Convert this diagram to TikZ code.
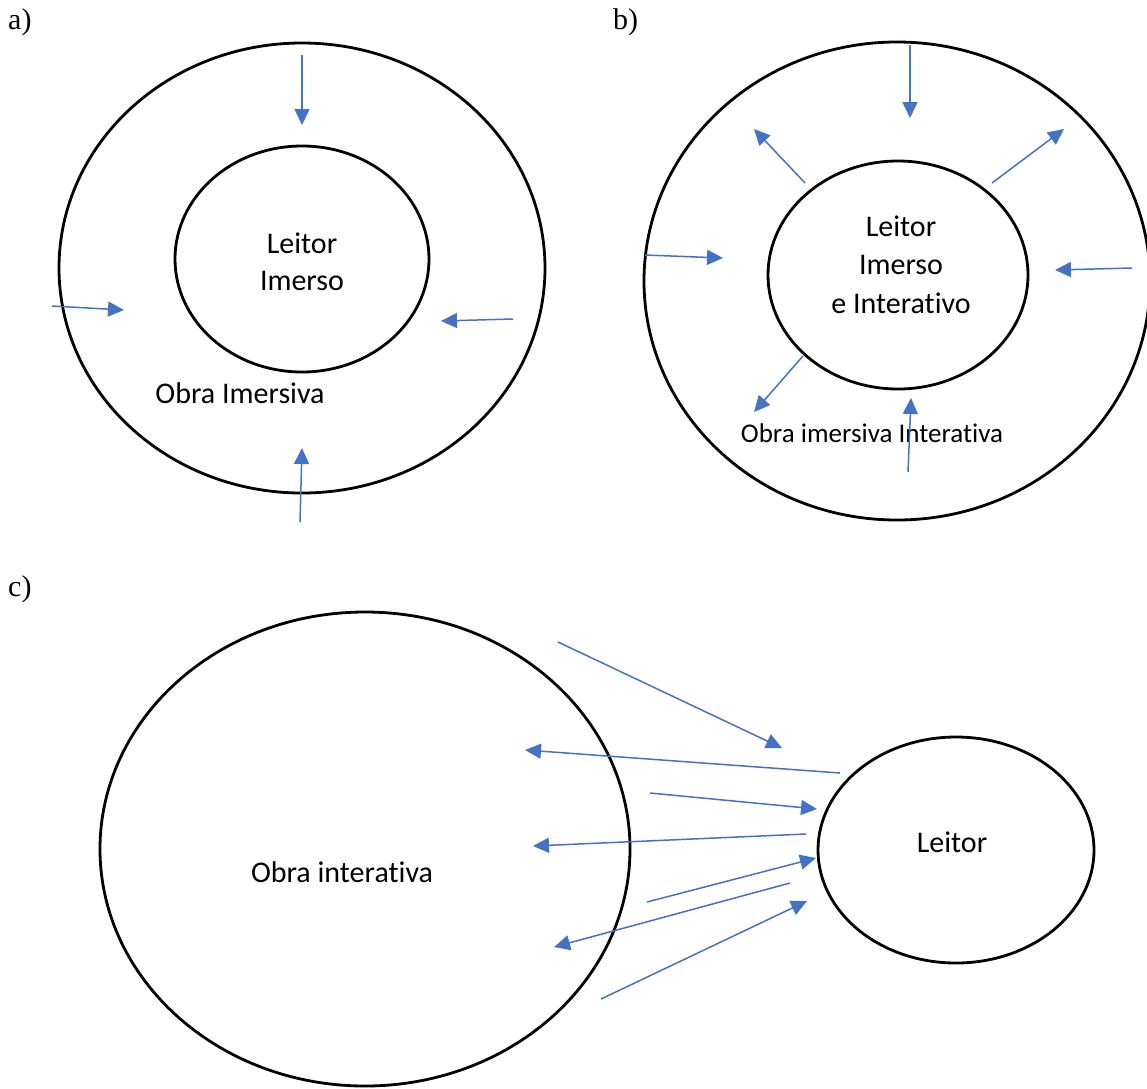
\documentclass[tikz,border=0pt]{standalone}
\usepackage{fontspec}
\setmainfont[Ligatures=NoCommon]{Carlito}
\newfontfamily\timesf{Liberation Serif}
\usetikzlibrary{arrows.meta,shapes.geometric}
\definecolor{arrowblue}{RGB}{68,114,196}
\begin{document}
\begin{tikzpicture}[x=1pt,y=-1pt,
 ring/.style={draw=black, line width=2.8pt, ellipse, inner sep=0pt, outer sep=0pt},
 flow/.style={draw=arrowblue, line width=1.5pt, -{Triangle[length=16pt,width=15pt]}},
 lbl/.style={font=\fontsize{30}{36}\selectfont, anchor=base, inner sep=0pt},
 smalllbl/.style={font=\fontsize{27}{32}\selectfont, anchor=base, inner sep=0pt},
 tag/.style={font=\timesf\fontsize{30}{36}\selectfont, anchor=base west, inner sep=0pt}]
\useasboundingbox[fill=white] (0,0) rectangle (1147,1088);

% ---------- a) ----------
\node[tag] (taga) at (8,29) {a)};
\node[ring, minimum width=486pt, minimum height=450pt] (aout) at (302,268) {};
\node[ring, minimum width=254pt, minimum height=226pt] (ain) at (302,259) {};
\node[lbl] (aleitor) at (302,253) {Leitor};
\node[lbl] (aimerso) at (302,290) {Imerso};
\node[lbl] (aobra) at (240,403) {Obra Imersiva};
\coordinate (a1s) at (302,55);  \coordinate (a1e) at (302,125);
\coordinate (a2s) at (52,306);  \coordinate (a2e) at (124,310);
\coordinate (a3s) at (513,319); \coordinate (a3e) at (441,321);
\coordinate (a4s) at (300,522); \coordinate (a4e) at (302,448);
\draw[flow] (a1s) -- (a1e);
\draw[flow] (a2s) -- (a2e);
\draw[flow] (a3s) -- (a3e);
\draw[flow] (a4s) -- (a4e);

% ---------- b) ----------
\node[tag] (tagb) at (613,29) {b)};
\node[ring, minimum width=506pt, minimum height=478pt] (bout) at (897,281) {};
\node[ring, minimum width=260pt, minimum height=228pt] (bin) at (898,275) {};
\node[lbl] (bleitor) at (901,236) {Leitor};
\node[lbl] (bimerso) at (901,274) {Imerso};
\node[lbl] (binter) at (901,313) {e Interativo};
\node[smalllbl] (bobra) at (872,442) {Obra imersiva Interativa};
\coordinate (b1s) at (910,45);   \coordinate (b1e) at (910,118);
\coordinate (b2s) at (805,183);  \coordinate (b2e) at (754,129);
\coordinate (b3s) at (992,183);  \coordinate (b3e) at (1064,129);
\coordinate (b4s) at (645,255);  \coordinate (b4e) at (723,258);
\coordinate (b5s) at (1132,268); \coordinate (b5e) at (1055,270);
\coordinate (b6s) at (803,356);  \coordinate (b6e) at (754,412);
\coordinate (b7s) at (908,472);  \coordinate (b7e) at (911,398);
\draw[flow] (b1s) -- (b1e);
\draw[flow] (b2s) -- (b2e);
\draw[flow] (b3s) -- (b3e);
\draw[flow] (b4s) -- (b4e);
\draw[flow] (b5s) -- (b5e);
\draw[flow] (b6s) -- (b6e);
\draw[flow] (b7s) -- (b7e);

% ---------- c) ----------
\node[tag] (tagc) at (8,596) {c)};
\node[ring, minimum width=530pt, minimum height=474pt] (cobra) at (365,849) {};
\node[ring, minimum width=276pt, minimum height=226pt] (cleitor) at (956,850) {};
\node[lbl] (cleitortxt) at (952,852) {Leitor};
\node[lbl] (cobratxt) at (342,882) {Obra interativa};
\coordinate (c1s) at (558,642); \coordinate (c1e) at (782,748);
\coordinate (c2s) at (840,773); \coordinate (c2e) at (525,750);
\coordinate (c3s) at (650,793); \coordinate (c3e) at (817,809);
\coordinate (c4s) at (806,834); \coordinate (c4e) at (533,846);
\coordinate (c5s) at (647,902); \coordinate (c5e) at (816,858);
\coordinate (c6s) at (790,883); \coordinate (c6e) at (554,947);
\coordinate (c7s) at (601,999); \coordinate (c7e) at (807,901);
\draw[flow] (c1s) -- (c1e);
\draw[flow] (c2s) -- (c2e);
\draw[flow] (c3s) -- (c3e);
\draw[flow] (c4s) -- (c4e);
\draw[flow] (c5s) -- (c5e);
\draw[flow] (c6s) -- (c6e);
\draw[flow] (c7s) -- (c7e);
\end{tikzpicture}
\end{document}
